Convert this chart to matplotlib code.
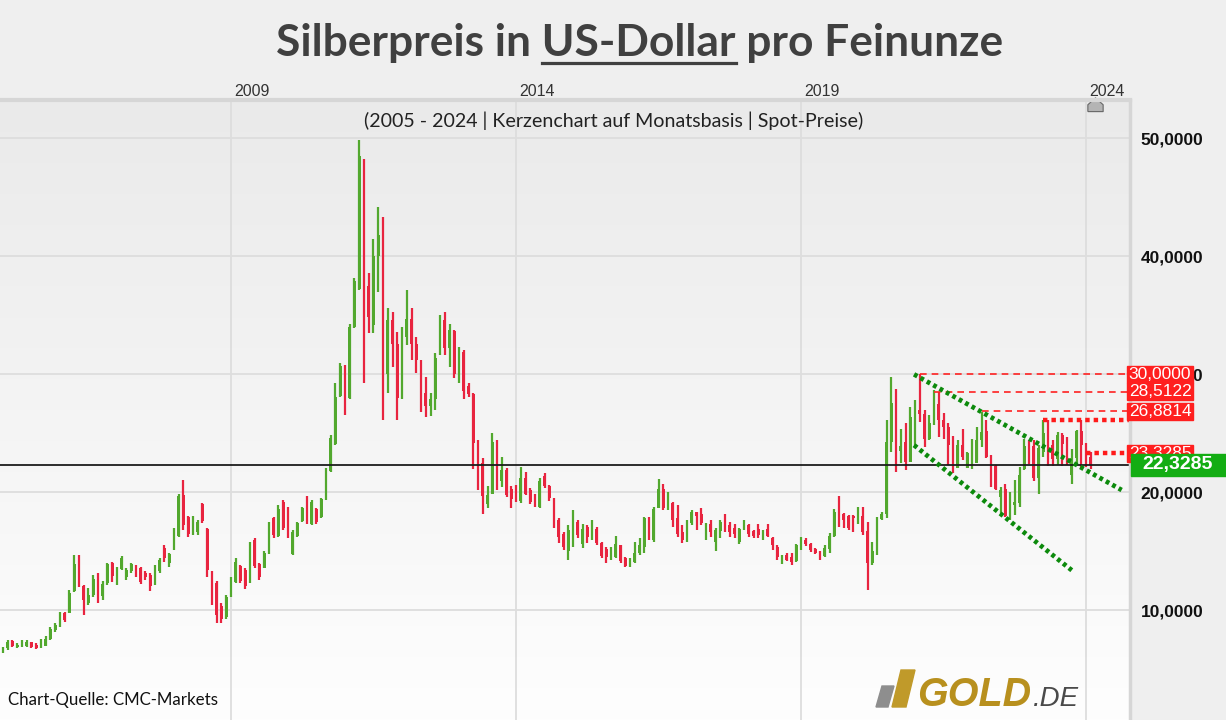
import numpy as np
import matplotlib
matplotlib.use("Agg")
import matplotlib.pyplot as plt
from matplotlib.colors import LinearSegmentedColormap
from matplotlib.patches import Rectangle, Polygon
from matplotlib.lines import Line2D
from matplotlib.path import Path
from matplotlib.transforms import blended_transform_factory

# monthly candles, Jan 2005 .. Feb 2024 (USD per troy ounce), one row per year
opens = [
    6.5, 6.8, 7.4, 6.9, 7.0, 7.0, 7.3, 7.1, 6.8, 7.0, 7.6, 8.3,
    8.8, 9.8, 9.8, 11.6, 14.5, 12.1, 10.6, 11.3, 12.9, 11.2, 12.3, 14.0,
    12.9, 13.5, 12.8, 13.3, 13.8, 13.6, 13.2, 13.0, 12.2, 13.3, 15.3, 14.0,
    15.2, 16.3, 19.8, 17.9, 16.5, 16.6, 19.0, 16.9, 13.2, 12.3, 10.4, 9.4,
    11.2, 12.4, 13.8, 13.4, 12.4, 16.0, 13.9, 13.6, 14.9, 17.8, 16.3, 19.2,
    18.6, 14.8, 16.3, 17.6, 19.5, 17.3, 18.6, 17.9, 19.4, 21.8, 24.1, 28.2,
    30.7, 28.0, 34.0, 37.2, 48.2, 37.5, 34.2, 40.0, 41.8, 30.0, 34.6, 32.6,
    28.0, 33.2, 34.7, 32.6, 31.2, 28.4, 27.3, 27.9, 31.6, 34.6, 32.2, 33.7,
    30.0, 31.9, 29.0, 28.3, 24.2, 22.5, 19.0, 19.9, 24.3, 21.0, 21.9, 20.3,
    20.3, 19.3, 21.2, 20.2, 19.8, 18.8, 21.4, 20.5, 19.4, 17.7, 16.5, 15.0,
    15.5, 17.5, 15.6, 17.1, 16.1, 16.9, 15.7, 15.2, 14.4, 14.5, 15.5, 14.4,
    13.8, 14.1, 14.9, 15.4, 17.8, 16.0, 18.7, 20.3, 18.7, 19.1, 17.8, 16.6,
    15.9, 17.4, 18.3, 18.2, 16.6, 17.3, 15.8, 16.7, 17.6, 17.2, 17.0, 15.8,
    16.9, 17.2, 16.7, 16.9, 16.1, 16.9, 16.1, 15.4, 14.3, 14.7, 14.5, 14.2,
    15.5, 16.0, 15.6, 15.2, 14.9, 14.6, 15.2, 16.3, 18.5, 18.2, 18.0, 18.0,
    17.8, 18.0, 16.7, 14.0, 15.0, 17.75, 18.2, 24.3, 27.6, 23.5, 24.3, 22.6,
    26.4, 27.0, 26.6, 24.5, 25.9, 27.5, 26.1, 25.5, 24.0, 22.1, 24.0, 22.1,
    22.3, 22.5, 24.4, 25.2, 23.0, 22.2, 19.6, 20.3, 17.9, 18.9, 19.1, 22.0,
    24.0, 23.9, 21.2, 23.4, 25.6, 24.0, 22.8, 24.9, 24.3, 21.5, 22.9, 25.2,
    24.0, 23.0,
]
highs = [
    6.9, 7.5, 7.5, 7.2, 7.5, 7.5, 7.35, 7.2, 7.55, 7.8, 8.6, 8.95,
    9.9, 9.9, 11.7, 14.7, 14.7, 12.15, 11.9, 13.0, 13.15, 12.45, 14.05, 14.1,
    13.7, 14.6, 13.55, 14.0, 13.85, 13.7, 13.3, 13.15, 13.85, 14.4, 15.55, 14.9,
    16.95, 19.9, 21.05, 18.0, 18.0, 17.7, 19.1, 16.95, 13.3, 12.45, 10.6, 11.3,
    12.85, 14.4, 13.85, 13.55, 15.8, 16.1, 14.0, 15.0, 17.5, 17.95, 18.9, 19.35,
    18.8, 16.8, 17.5, 18.8, 19.65, 19.35, 18.65, 19.5, 22.05, 24.85, 29.25, 30.95,
    30.8, 34.3, 38.15, 49.85, 48.25, 38.55, 41.5, 44.2, 43.35, 35.6, 35.3, 33.6,
    34.0, 37.15, 35.6, 33.2, 31.25, 29.8, 28.4, 31.8, 35.0, 35.3, 34.3, 33.75,
    32.35, 32.05, 29.25, 28.4, 24.45, 22.9, 20.5, 25.0, 24.45, 23.0, 22.05, 20.5,
    20.6, 22.15, 21.75, 20.35, 19.9, 21.2, 21.6, 20.6, 19.5, 17.8, 16.65, 17.25,
    18.5, 17.65, 17.35, 17.25, 17.65, 17.1, 15.8, 15.4, 15.4, 16.3, 15.55, 14.55,
    14.4, 15.8, 16.1, 17.95, 17.95, 18.8, 21.1, 20.75, 20.05, 19.2, 18.9, 17.25,
    17.65, 18.5, 18.35, 18.65, 17.4, 17.65, 16.95, 17.65, 18.15, 17.5, 17.35, 16.95,
    17.65, 17.3, 16.85, 17.3, 16.8, 17.3, 16.2, 15.55, 14.7, 14.85, 14.85, 15.6,
    16.2, 16.15, 15.7, 15.25, 15.0, 15.55, 16.55, 18.55, 19.65, 18.25, 18.1, 18.1,
    18.8, 18.8, 17.5, 15.8, 17.95, 18.3, 26.15, 29.8, 28.8, 25.4, 25.9, 27.25,
    27.8, 30.0, 26.95, 26.55, 28.65, 28.5, 26.7, 25.85, 24.75, 24.4, 25.35, 23.45,
    24.55, 25.55, 26.85, 26.1, 23.15, 22.3, 20.45, 20.75, 20.05, 21.05, 22.15, 24.5,
    24.4, 24.4, 24.0, 26.1, 26.1, 24.4, 25.1, 25.0, 24.7, 23.7, 25.3, 26.1,
    24.15, 23.4,
]
lows = [
    6.4, 6.6, 6.9, 6.8, 6.9, 6.9, 6.8, 6.7, 6.8, 7.0, 7.5, 8.2,
    8.6, 9.0, 9.75, 11.55, 12.0, 9.6, 10.45, 11.15, 10.6, 10.9, 12.15, 12.4,
    12.15, 13.4, 12.55, 13.15, 12.85, 12.2, 12.55, 11.6, 12.15, 13.15, 14.1, 13.7,
    15.1, 16.2, 16.8, 16.2, 16.4, 16.4, 17.4, 12.8, 10.45, 8.95, 8.95, 9.3,
    11.1, 12.3, 12.3, 11.85, 12.3, 13.55, 12.55, 13.55, 14.8, 16.1, 16.2, 16.8,
    16.1, 14.7, 16.25, 17.5, 17.35, 17.2, 17.35, 17.8, 19.35, 21.75, 24.0, 28.1,
    26.55, 27.95, 33.9, 37.15, 29.25, 33.5, 33.5, 37.0, 26.1, 28.4, 30.65, 26.1,
    27.95, 32.5, 31.2, 30.1, 26.85, 26.4, 26.5, 27.0, 31.6, 31.6, 30.65, 29.65,
    29.25, 27.95, 28.05, 22.0, 20.2, 18.2, 18.65, 19.9, 20.2, 20.45, 19.6, 18.65,
    19.15, 19.1, 19.8, 19.0, 18.75, 18.65, 20.35, 19.3, 16.95, 15.7, 15.1, 14.25,
    15.4, 16.1, 15.25, 15.7, 15.95, 15.55, 14.4, 14.0, 14.3, 14.4, 14.0, 13.65,
    13.7, 14.0, 14.7, 14.85, 15.95, 15.8, 18.65, 18.5, 18.5, 17.1, 16.25, 15.7,
    15.8, 17.25, 16.8, 17.25, 16.0, 16.25, 15.0, 16.1, 16.65, 16.25, 16.1, 15.6,
    16.8, 16.25, 16.1, 16.1, 16.0, 16.25, 15.15, 14.3, 13.9, 14.2, 13.85, 14.1,
    15.1, 15.45, 14.95, 14.8, 14.3, 14.55, 14.85, 16.25, 17.1, 16.95, 16.8, 16.65,
    17.35, 16.4, 11.7, 13.85, 14.7, 17.7, 17.8, 23.45, 21.75, 22.45, 21.9, 22.6,
    23.9, 26.0, 23.85, 24.45, 25.7, 24.7, 24.55, 22.3, 21.6, 22.05, 22.75, 22.05,
    22.0, 22.75, 23.85, 22.9, 20.45, 20.2, 18.2, 17.95, 17.65, 18.1, 18.8, 21.9,
    22.4, 21.0, 19.9, 23.0, 22.2, 22.2, 22.3, 22.2, 22.3, 20.75, 22.3, 22.0,
    22.15, 22.0,
]
closes = [
    6.8, 7.3, 7.0, 7.1, 7.4, 7.3, 6.9, 6.8, 7.4, 7.6, 8.4, 8.8,
    9.6, 9.2, 11.5, 13.9, 12.7, 10.9, 11.3, 12.7, 11.5, 12.2, 13.9, 12.9,
    13.4, 14.4, 13.4, 13.9, 13.0, 12.4, 12.8, 12.1, 13.7, 14.3, 14.4, 14.8,
    16.8, 19.7, 17.2, 16.5, 17.2, 17.5, 17.6, 13.4, 10.9, 9.6, 9.3, 11.1,
    12.6, 14.1, 12.5, 12.1, 15.6, 13.8, 12.8, 14.9, 17.2, 16.4, 18.6, 17.0,
    16.3, 16.6, 17.4, 18.7, 17.6, 19.2, 17.5, 19.4, 21.9, 24.6, 28.1, 30.7,
    27.8, 34.0, 37.9, 48.5, 37.5, 34.9, 40.0, 41.8, 30.0, 34.6, 32.6, 28.0,
    33.2, 34.7, 32.6, 31.2, 28.3, 27.3, 27.9, 31.4, 34.6, 32.2, 33.8, 30.0,
    31.9, 28.6, 28.3, 24.2, 22.3, 19.7, 19.8, 24.3, 21.7, 21.9, 19.8, 19.4,
    19.3, 21.2, 19.9, 19.2, 18.9, 21.0, 20.5, 19.5, 17.1, 16.2, 15.4, 16.8,
    17.3, 16.4, 16.9, 16.2, 17.0, 15.7, 14.6, 14.5, 15.2, 15.6, 14.2, 13.8,
    14.3, 14.9, 15.5, 17.8, 16.0, 18.6, 20.3, 18.7, 19.2, 17.7, 16.5, 16.0,
    17.4, 18.3, 18.0, 17.4, 17.2, 16.6, 16.8, 17.5, 16.7, 16.6, 16.5, 16.9,
    17.3, 16.5, 16.3, 16.4, 16.5, 16.3, 15.5, 14.5, 14.6, 14.3, 14.1, 15.5,
    16.0, 15.6, 15.1, 14.9, 14.6, 15.3, 16.3, 18.3, 17.2, 17.7, 17.0, 17.8,
    18.0, 16.6, 14.0, 15.0, 17.8, 18.2, 24.3, 27.6, 23.5, 23.9, 22.6, 26.4,
    26.9, 26.6, 24.5, 25.9, 27.5, 26.1, 25.5, 24.0, 22.1, 24.0, 23.0, 23.3,
    22.5, 24.4, 25.1, 23.0, 21.6, 20.3, 20.2, 18.0, 19.0, 19.2, 21.5, 23.9,
    23.0, 21.2, 23.8, 25.0, 23.6, 22.8, 24.9, 24.1, 22.4, 22.9, 25.2, 24.0,
    23.0, 22.33,
]

last_price = 22.3285
last_label = "22,3285"

# horizontal marker lines drawn in the chart (start = candle index)
level_values = [30.0, 28.5122, 26.8814, 23.3285]
level_labels = ["30,0000", "28,5122", "26,8814", "23,3285"]
level_start = [193, 196, 206, 228]
dotted_levels = [26.13, 23.3285]
dotted_start = [219, 228]

# trend channel (candle index, price)
upper_x, upper_y = [191.8, 235.5], [30.0, 20.2]
lower_x, lower_y = [191.8, 225.0], [24.0, 13.4]

year_labels = ["2009", "2014", "2019", "2024"]
year_index = [48, 108, 168, 228]
y_ticks = [10, 20, 30, 40, 50]

GREEN = "#52a82e"
RED = "#e8243f"

plt.rcParams["font.family"] = ["Lato", "DejaVu Sans"]

W, H = 1226, 720
fig = plt.figure(figsize=(W / 100, H / 100), dpi=100)
fig.patch.set_facecolor("#efefef")
ax = fig.add_axes([0, 0, 1130 / W, 620 / H])
X_LEFT, X_RIGHT = -0.63, 237.26


def px(points):
    # picture pixels -> figure fraction
    return [(x / W, 1 - y / H) for x, y in points]


# plot background gradient
bg = LinearSegmentedColormap.from_list("bg", ["#fefefe", "#eaeaea"])
ax.imshow(np.linspace(0, 1, 256).reshape(-1, 1), extent=[0, 1, 0, 1],
          transform=ax.transAxes, cmap=bg, aspect="auto", origin="lower", zorder=0)

ax.set_xlim(X_LEFT, X_RIGHT)
ax.set_ylim(0.71, 53.25)
for s in ax.spines.values():
    s.set_visible(False)
ax.set_xticks([])

for v in y_ticks:
    ax.axhline(v, color="#dddddd", lw=1.3, zorder=1)
for i in year_index:
    ax.axvline(i, color="#dddddd", lw=1.3, zorder=1)

# candles
o, h, l, c = map(np.array, (opens, highs, lows, closes))
idx = np.arange(len(c))
cols = np.where(c >= o, GREEN, RED)
ax.vlines(idx, l, h, colors=cols, lw=1.6, zorder=3)
ax.bar(idx, np.maximum(np.abs(c - o), 0.15), bottom=np.minimum(o, c), width=0.62,
       color=cols, linewidth=0, zorder=3)

# current price line
ax.axhline(last_price, color="#1c1c1c", lw=1.3, zorder=4)

# red levels
for st, lv in zip(level_start[:3], level_values[:3]):
    ax.hlines(lv, st, X_RIGHT, colors="#ff2222", lw=1.2, linestyles=(0, (4, 3)), zorder=4)
for st, lv in zip(dotted_start, dotted_levels):
    ax.hlines(lv, st, X_RIGHT, colors="#ff1a1a", lw=3.2, linestyles=(0, (1, 0.9)), zorder=4)

# green channel, dotted
for xs, ys in ((upper_x, upper_y), (lower_x, lower_y)):
    ax.plot(xs, ys, color="#0c8a0c", lw=3.4, linestyle=(0, (0.8, 0.75)),
            dash_capstyle="butt", zorder=5)

# y axis on the right
ax.yaxis.tick_right()
ax.set_yticks(y_ticks)
ax.set_yticklabels([f"{v:.4f}".replace(".", ",") for v in y_ticks],
                   fontfamily="Liberation Sans", fontweight="bold", fontsize=12.5, color="#111111")
ax.tick_params(axis="y", length=0, pad=7.5)

# year labels above the plot
tr_top = blended_transform_factory(ax.transData, ax.transAxes)
for lab, i in zip(year_labels, year_index):
    ax.text(i + 0.6, 624 / 620, lab, transform=tr_top, ha="left", va="baseline",
            fontsize=11.5, fontfamily="Liberation Sans", color="#333333", clip_on=False)

# small marker at the top right
house = Path([(-1, -0.8), (1, -0.8), (1, 0.1), (0, 1), (-1, 0.1), (-1, -0.8)])
ax.plot([229.9], [52.85], marker=house, markersize=11, color="#b4b4b4",
        markeredgecolor="#666666", markeredgewidth=0.8, clip_on=False, zorder=6)

# frame lines
fig.add_artist(Line2D([0, 1130 / W], [620 / H, 620 / H], lw=3, color="#d6d6d6"))
fig.add_artist(Line2D([1130 / W, 1130 / W], [0, 620 / H], lw=2.5, color="#d6d6d6"))

# labels on the right edge
tr_lab = blended_transform_factory(fig.transFigure, ax.transData)
box_h = 17 / 11.8
for lv, lab in zip(level_values, level_labels):
    fig.add_artist(Rectangle((1127 / W, lv - box_h / 2), 66 / W, box_h,
                             transform=tr_lab, color="#ff1f1f", zorder=5))
    fig.text(1160 / W, lv, lab, transform=tr_lab, ha="center", va="center",
             fontsize=12.5, fontfamily="Liberation Sans", color="white", zorder=6)
gh = 22 / 11.8
fig.add_artist(Rectangle((1131 / W, last_price - gh / 2), 95 / W, gh,
                         transform=tr_lab, color="#13ad13", zorder=7))
fig.text(1178 / W, last_price, last_label, transform=tr_lab, ha="center", va="center",
         fontsize=14, fontweight="bold", fontfamily="Liberation Sans", color="white", zorder=8)

renderer = fig.canvas.get_renderer()


def fit_width(t, target):
    w = t.get_window_extent(renderer).width
    t.set_fontsize(t.get_fontsize() * target / w)


# title with underlined word
title_col = "#404040"
title = fig.text(640 / W, 1 - 56 / H, "Silberpreis in US-Dollar pro Feinunze", ha="center",
                 va="baseline", fontsize=30, fontweight="bold", color=title_col)
fit_width(title, 726)
fs = title.get_fontsize()
bb = title.get_window_extent(renderer)
tmp = fig.text(0, 0, "Silberpreis in US-Dollar", fontsize=fs, fontweight="bold")
w_pre = tmp.get_window_extent(renderer).width
tmp.remove()
tmp = fig.text(0, 0, "US-Dollar", fontsize=fs, fontweight="bold")
w_word = tmp.get_window_extent(renderer).width
tmp.remove()
x_end = bb.x0 + w_pre
fig.add_artist(Line2D([(x_end - w_word) / W, x_end / W], [1 - 63 / H] * 2, lw=2.3, color=title_col))

sub = fig.text(614 / W, 1 - 127 / H, "(2005 - 2024 | Kerzenchart auf Monatsbasis | Spot-Preise)",
               ha="center", va="baseline", fontsize=14, color="#222222")
fit_width(sub, 503)

src = fig.text(8 / W, 1 - 705 / H, "Chart-Quelle: CMC-Markets", ha="left", va="baseline",
               fontsize=12, color="#111111")
fit_width(src, 209)

# GOLD.DE logo
fig.add_artist(Polygon(px([(876, 707), (888, 707), (894, 686), (882, 686)]), color="#8e8e8e", zorder=5))
fig.add_artist(Polygon(px([(892, 707), (906, 707), (915, 670), (901, 670)]), color="#c09a2a", zorder=5))
gold = fig.text(917 / W, 1 - 706 / H, "GOLD", ha="left", va="baseline", fontsize=30,
                fontweight="bold", fontstyle="italic", fontfamily="Liberation Sans", color="#b8901e", zorder=6)
fit_width(gold, 114)
de = fig.text(1033 / W, 1 - 706 / H, ".DE", ha="left", va="baseline", fontsize=17,
              fontstyle="italic", fontfamily="Liberation Sans", color="#4a4a4a", zorder=6)
fit_width(de, 46)

fig.savefig("out.png", dpi=100, facecolor=fig.get_facecolor())
